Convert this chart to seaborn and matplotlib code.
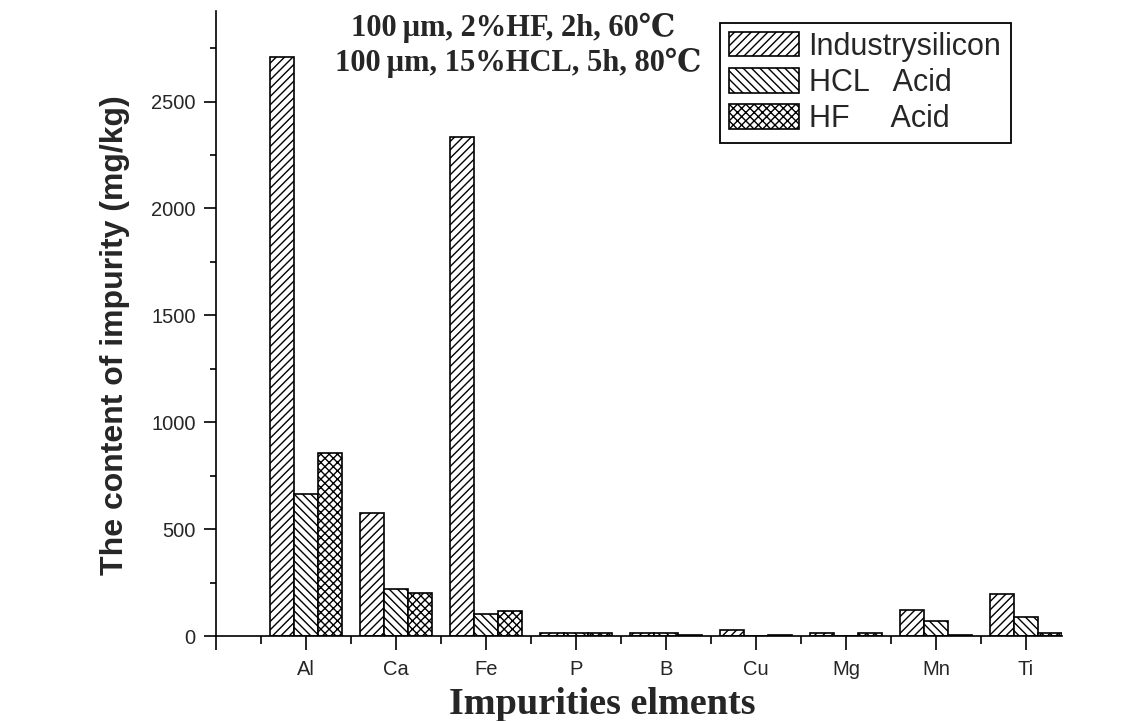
import matplotlib
matplotlib.use("Agg")
import matplotlib.pyplot as plt
from matplotlib.patches import Patch
from matplotlib.ticker import MultipleLocator, FixedLocator
import seaborn as sns
import pandas as pd

# ---- data ----
elements = ['Al', 'Ca', 'Fe', 'P', 'B', 'Cu', 'Mg', 'Mn', 'Ti']
series_names = ['Industrysilicon', 'HCL   Acid', 'HF     Acid']
industry = [2710, 575, 2335, 15, 15, 28, 15, 122, 196]
hcl_acid = [662, 222, 105, 15, 15, 0, 0, 72, 87]
hf_acid = [856, 202, 115, 15, 5, 4, 15, 5, 16]
hatches = ['////', '\\\\\\\\', 'xxxx']
annot_lines = ['100\u2009\u03bcm, 2%HF, 2h, 60\u2103', '100\u2009\u03bcm, 15%HCL, 5h, 80\u2103']
y_label = 'The content of impurity (mg/kg)'
x_label = 'Impurities elments'

df = pd.DataFrame({
    'element': elements * 3,
    'series': [series_names[0]] * 9 + [series_names[1]] * 9 + [series_names[2]] * 9,
    'value': industry + hcl_acid + hf_acid,
})

sns.set_style('ticks')
plt.rcParams['font.family'] = ['Liberation Sans', 'DejaVu Sans']
plt.rcParams['hatch.linewidth'] = 1.0
plt.rcParams['hatch.color'] = 'black'

W, H = 1143, 721
fig = plt.figure(figsize=(W / 100, H / 100), dpi=100)
ax = fig.add_axes([216 / W, 85 / H, (1062 - 216) / W, (636 - 10.7) / H])

sns.barplot(data=df, x='element', y='value', hue='series', order=elements,
            hue_order=series_names, width=0.8, dodge=True, legend=False,
            errorbar=None, ax=ax, saturation=1)

for cont, h in zip(ax.containers, hatches):
    for p in cont:
        p.set_facecolor('white')
        p.set_edgecolor('black')
        p.set_linewidth(1.2)
        p.set_hatch(h)

ax.set_xlim(-1, 8.4)
ax.set_ylim(0, 2925)

for s in ['top', 'right']:
    ax.spines[s].set_visible(False)
for s in ['left', 'bottom']:
    ax.spines[s].set_linewidth(1.2)
    ax.spines[s].set_color('black')

ax.xaxis.set_major_locator(FixedLocator(list(range(-1, 9))))
ax.set_xticklabels([''] + elements)
ax.xaxis.set_minor_locator(FixedLocator([i + 0.5 for i in range(-1, 9)]))
ax.yaxis.set_major_locator(MultipleLocator(500))
ax.yaxis.set_minor_locator(MultipleLocator(250))

ax.tick_params(axis='x', which='major', direction='out', length=10, width=1.2,
               labelsize=14.5, pad=7, color='black')
ax.tick_params(axis='x', which='minor', direction='out', length=6, width=1.2, color='black')
ax.tick_params(axis='y', which='major', direction='out', length=8.5, width=1.2,
               labelsize=14.5, pad=6, color='black')
ax.tick_params(axis='y', which='minor', direction='out', length=4.5, width=1.2, color='black')

ax.set_ylabel(y_label, fontsize=23, fontweight='bold')
ax.yaxis.set_label_coords(-0.102, 0.481)
ax.set_xlabel('')

serif = ['Liberation Serif', 'DejaVu Serif']
fig.text(602 / W, 1 - 714 / H, x_label, ha='center', va='baseline',
         fontsize=27.5, fontweight='bold', family=serif)

fig.text(513 / W, 1 - 28 / H, annot_lines[0], ha='center', va='center',
         fontsize=22, fontweight='bold', family=serif)
fig.text(518 / W, 1 - 63 / H, annot_lines[1], ha='center', va='center',
         fontsize=22, fontweight='bold', family=serif)

handles = [Patch(facecolor='white', edgecolor='black', hatch=h, linewidth=1.2)
           for h in hatches]
leg = fig.legend(handles, series_names, loc='upper left',
                 bbox_to_anchor=(720 / W, 1 - 22.7 / H), fontsize=22,
                 handlelength=2.3, handleheight=0.85, labelspacing=0.2,
                 handletextpad=0.3, borderpad=0.3, borderaxespad=0,
                 fancybox=False, frameon=True, framealpha=1)
leg.get_frame().set_edgecolor('black')
leg.get_frame().set_linewidth(1.3)

fig.savefig('out.png', dpi=100)
